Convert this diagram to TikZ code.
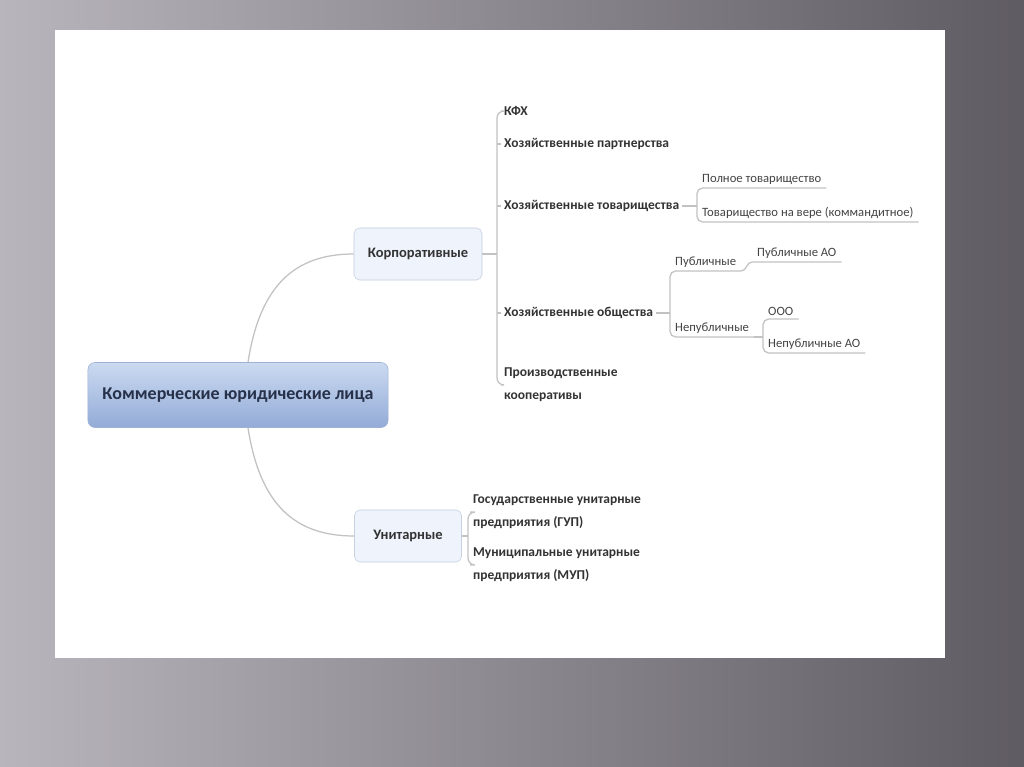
\documentclass[tikz,border=0pt]{standalone}
\usepackage{fontspec}
\setmainfont{Carlito}
\usetikzlibrary{positioning}
\definecolor{bgleft}{HTML}{B9B5BD}
\definecolor{bgright}{HTML}{5F5B62}
\definecolor{linegray}{HTML}{C2C2C2}
\definecolor{rootfill}{HTML}{CBDAF0}
\definecolor{rootfilldark}{HTML}{93ABD7}
\definecolor{rootline}{HTML}{9DB1D4}
\definecolor{rootink}{HTML}{27324A}
\definecolor{topicfill}{HTML}{EEF3FC}
\definecolor{topicline}{HTML}{C6D0E0}
\definecolor{ink}{HTML}{333333}
\definecolor{leafink}{HTML}{444444}
\tikzset{rootbox/.style = {draw=rootline, rounded corners=5pt, top color=rootfill, bottom color=rootfilldark,
    minimum width=7.5cm, minimum height=1.625cm, text=rootink, font=\fontsize{12.8}{15}\selectfont\bfseries}}
\tikzset{topic/.style = {draw=topicline, rounded corners=4pt, fill=topicfill, minimum height=1.3cm,
    text=ink, font=\fontsize{10.3}{12}\selectfont\bfseries}}
\tikzset{sub/.style = {anchor=west, inner xsep=2pt, inner ysep=1pt, align=left, text=ink,
    font=\fontsize{9.6}{16.2}\selectfont\bfseries}}
\tikzset{leaf/.style = {anchor=south west, inner xsep=3.5pt, inner ysep=2pt, text=leafink,
    font=\fontsize{9.0}{11}\selectfont}}
\tikzset{link/.style = {draw=linegray, line width=0.9pt}}

\begin{document}
\begin{tikzpicture}[x=0.025cm, y=-0.025cm]
            % Background
            \fill[left color=bgleft, right color=bgright] (0,0) rectangle (1024,767);
            \fill[white] (55,30) rectangle (945,658);

            % Main topics
            \node[rootbox] (root) at (238,395) {Коммерческие юридические лица};
            \node[topic, minimum width=3.2cm] (korp) at (418,254) {Корпоративные};
            \node[topic, minimum width=2.675cm] (unit) at (408,536) {Унитарные};

            % Corporate kinds
            \node[sub] (kfx) at (501,111) {КФХ};
            \node[sub] (partn) at (501,144) {Хозяйственные партнерства};
            \node[sub] (tov) at (501,206) {Хозяйственные товарищества};
            \node[sub] (obsh) at (501,313) {Хозяйственные общества};
            \node[sub] (prod) at (501,385) {Производственные\\кооперативы};

            % Partnerships
            \node[leaf] (pol) at (697,188) {Полное товарищество};
            \node[leaf] (kom) at (697,222) {Товарищество на вере (коммандитное)};

            % Companies
            \node[leaf] (pub) at (670,271) {Публичные};
            \node[leaf] (nepub) at (670,337) {Непубличные};
            \node[leaf] (pubao) at (752,262) {Публичные АО};
            \node[leaf] (ooo) at (763,319) {ООО};
            \node[leaf] (nepubao) at (763,353) {Непубличные АО};

            % Unitary
            \node[sub] (gup) at (470,512) {Государственные унитарные\\предприятия (ГУП)};
            \node[sub] (mup) at (470,565) {Муниципальные унитарные\\предприятия (МУП)};

            \coordinate (spine) at (497,254);
            \coordinate (ujoin) at (468,536);

            % Edges
            % root
            \draw[link] (root.north) ++(10,0) coordinate (rtop) .. controls (260,285) and (295,254) .. (korp.west);
            \draw[link] (root.south) ++(10,0) coordinate (rbot) .. controls (260,505) and (295,536) .. (unit.west);

            % korp
            \draw[link] (korp.east) -- (spine);
            \draw[link, rounded corners=5pt] (kfx.west) -- (kfx.west -| spine) -- (prod.west -| spine) -- (prod.west);
            \foreach \n in {partn,tov,obsh}
                \draw[link] (\n.west -| spine) -- (\n.west);

            % tov
            \draw[link] (tov.east) -- (tov.east -| pol.south west);
            \draw[link, rounded corners=4pt] (pol.south east) -- (pol.south west) -- (kom.south west) -- (kom.south east);

            % obsh
            \draw[link] (obsh.east) -- (obsh.east -| pub.south west);
            \draw[link, rounded corners=4pt] (pub.south east) -- (pub.south west) -- (nepub.south west) -- (nepub.south east);
            \draw[link] (pub.south east) to[out=0, in=180] (pubao.south west) -- (pubao.south east);
            \draw[link] (nepub.south east) -- (nepub.south east -| ooo.south west);
            \draw[link, rounded corners=4pt] (ooo.south east) -- (ooo.south west) -- (nepubao.south west) -- (nepubao.south east);

            % unit
            \draw[link] (unit.east) -- (ujoin);
            \draw[link, rounded corners=5pt] (gup.west) -- (gup.west -| ujoin) -- (mup.west -| ujoin) -- (mup.west);
\end{tikzpicture}
\end{document}
